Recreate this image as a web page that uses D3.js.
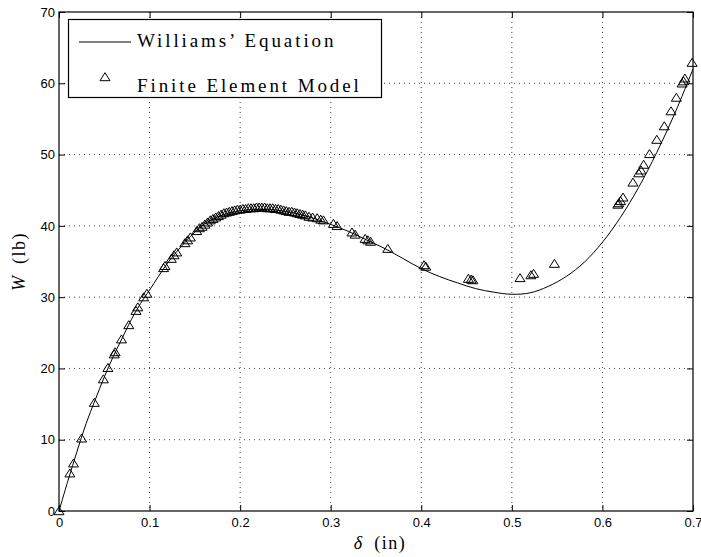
<!DOCTYPE html>
<html>
<head>
<meta charset="utf-8">
<script src="https://cdn.jsdelivr.net/npm/d3@7"></script>
<style>
  body { margin: 0; background: #fff; }
  .tick text { font-family: "Liberation Sans", Arial, sans-serif; font-size: 13px; fill: #000; }
  .lbl { font-family: "Liberation Serif", serif; fill: #000; }
</style>
</head>
<body>
<script>
// Williams' Equation curve (delta in, W lb)
const curveD = [0, 0.01, 0.02, 0.03, 0.04, 0.05, 0.06, 0.07, 0.08, 0.09, 0.10, 0.12, 0.14, 0.16, 0.18, 0.20,
  0.22, 0.24, 0.26, 0.28, 0.30, 0.32, 0.34, 0.36, 0.38, 0.40, 0.42, 0.44, 0.46, 0.48, 0.50, 0.52,
  0.54, 0.56, 0.58, 0.60, 0.62, 0.64, 0.66, 0.68, 0.70];
const curveW = [0, 4.3, 8.4, 12.3, 15.6, 18.8, 21.7, 24.3, 26.9, 29.1, 31.0, 34.8, 37.8, 40.2, 41.5, 42.1,
  42.3, 42.2, 41.8, 41.1, 40.2, 39.2, 38.0, 36.8, 35.4, 34.0, 32.9, 32.0, 31.2, 30.7, 30.4, 30.6,
  31.5, 32.9, 34.9, 37.7, 41.2, 45.4, 50.3, 55.8, 62.0];

// Finite Element Model points
const femD = [0, 0.012, 0.016, 0.025, 0.039, 0.049, 0.054, 0.061, 0.062, 0.069, 0.077, 0.085, 0.087,
  0.0935, 0.097, 0.1155, 0.117, 0.124, 0.127, 0.130, 0.139, 0.142, 0.145, 0.152, 0.155,
  0.158, 0.161, 0.164, 0.167, 0.170, 0.173, 0.176, 0.179, 0.182, 0.185, 0.188, 0.191, 0.194, 0.197,
  0.200, 0.203, 0.206, 0.209, 0.212, 0.215, 0.218, 0.221, 0.224, 0.227, 0.230, 0.233, 0.236, 0.239,
  0.242, 0.245, 0.248, 0.251, 0.254, 0.257, 0.260, 0.263, 0.266, 0.269, 0.272, 0.276, 0.280, 0.285,
  0.289, 0.292, 0.303, 0.307, 0.3235, 0.327, 0.338, 0.341, 0.344, 0.363, 0.403, 0.405, 0.452, 0.455,
  0.457, 0.509, 0.521, 0.524, 0.547, 0.617, 0.618, 0.620, 0.6227, 0.6337, 0.640, 0.6426, 0.6455,
  0.652, 0.660, 0.6683, 0.6757, 0.6816, 0.688, 0.6896, 0.691, 0.699];
const femW = [0, 5.3, 6.7, 10.2, 15.2, 18.5, 20.1, 22.0, 22.3, 24.1, 26.1, 28.1, 28.6,
  30.0, 30.5, 34.1, 34.4, 35.4, 35.9, 36.3, 37.6, 38.0, 38.4, 39.3, 39.7,
  39.9, 40.2, 40.5, 40.8, 41.0, 41.2, 41.4, 41.6, 41.8, 41.9, 42.0, 42.1, 42.2, 42.3,
  42.3, 42.4, 42.4, 42.5, 42.5, 42.5, 42.6, 42.6, 42.6, 42.6, 42.5, 42.5, 42.5, 42.4,
  42.4, 42.3, 42.2, 42.1, 42.0, 42.0, 41.9, 41.8, 41.7, 41.6, 41.5, 41.3, 41.2, 41.1,
  40.9, 40.8, 40.3, 40.0, 39.1, 38.8, 38.2, 38.0, 37.8, 36.8, 34.5, 34.3, 32.6, 32.5,
  32.4, 32.7, 33.1, 33.3, 34.7, 43.0, 43.2, 43.5, 44.0, 46.1, 47.4, 47.8, 48.6,
  50.1, 52.1, 54.0, 56.1, 58.0, 60.0, 60.3, 60.7, 62.9];

const xTicks = [0, 0.1, 0.2, 0.3, 0.4, 0.5, 0.6, 0.7];
const yTicks = [0, 10, 20, 30, 40, 50, 60, 70];
const legendNames = ["Williams\u2019 Equation", "Finite Element Model"];

const w = 701;
const h = 557;
const pLeft = 59, pRight = 693, pTop = 12, pBottom = 511;

const xScale = d3.scaleLinear().domain([0, 0.7]).range([pLeft, pRight]);
const yScale = d3.scaleLinear().domain([0, 70]).range([pBottom, pTop]);

const svg = d3.select("body")
  .append("svg")
  .attr("width", w)
  .attr("height", h);

// dotted grid
svg.append("g")
  .selectAll("line")
  .data(xTicks.slice(1, -1))
  .enter()
  .append("line")
  .attr("x1", d => xScale(d)).attr("x2", d => xScale(d))
  .attr("y1", pTop).attr("y2", pBottom)
  .attr("stroke", "#444").attr("stroke-dasharray", "1,4");

svg.append("g")
  .selectAll("line")
  .data(yTicks.slice(1, -1))
  .enter()
  .append("line")
  .attr("y1", d => yScale(d)).attr("y2", d => yScale(d))
  .attr("x1", pLeft).attr("x2", pRight)
  .attr("stroke", "#444").attr("stroke-dasharray", "1,4");

// axes, ticks pointing inward on all four sides
const fmt = d => d === 0 ? "0" : String(d);
svg.append("g")
  .attr("transform", "translate(0," + pBottom + ")")
  .call(d3.axisBottom(xScale).tickValues(xTicks).tickFormat(fmt).tickSize(-6).tickPadding(7));
svg.append("g")
  .attr("transform", "translate(0," + pTop + ")")
  .call(d3.axisTop(xScale).tickValues(xTicks).tickFormat("").tickSize(-6));
svg.append("g")
  .attr("transform", "translate(" + pLeft + ",0)")
  .call(d3.axisLeft(yScale).tickValues(yTicks).tickSize(-6).tickPadding(4));
svg.append("g")
  .attr("transform", "translate(" + pRight + ",0)")
  .call(d3.axisRight(yScale).tickValues(yTicks).tickFormat("").tickSize(-6));
svg.selectAll(".domain").remove();
svg.selectAll(".tick line").attr("stroke", "#000");

svg.append("rect")
  .attr("x", pLeft).attr("y", pTop)
  .attr("width", pRight - pLeft).attr("height", pBottom - pTop)
  .attr("fill", "none").attr("stroke", "#000").attr("stroke-width", 1.2);

// curve
const curvePts = curveD.map((d, i) => [d, curveW[i]]);
const line = d3.line()
  .x(d => xScale(d[0]))
  .y(d => yScale(d[1]))
  .curve(d3.curveCatmullRom);
svg.append("path")
  .attr("d", line(curvePts))
  .attr("fill", "none").attr("stroke", "#000").attr("stroke-width", 1);

// triangles
const tri = "M0,-4.3L5,3.7L-5,3.7Z";
const femPts = femD.map((d, i) => [d, femW[i]]);
svg.append("g")
  .selectAll("path")
  .data(femPts)
  .enter()
  .append("path")
  .attr("d", tri)
  .attr("transform", d => "translate(" + xScale(d[0]) + "," + yScale(d[1]) + ")")
  .attr("fill", "none").attr("stroke", "#000").attr("stroke-width", 1);

// legend
const lg = svg.append("g");
lg.append("rect")
  .attr("x", 68.5).attr("y", 19.5).attr("width", 313).attr("height", 78)
  .attr("fill", "#fff").attr("stroke", "#000").attr("stroke-width", 1.2);
lg.append("line")
  .attr("x1", 79).attr("x2", 131).attr("y1", 42).attr("y2", 42)
  .attr("stroke", "#000");
lg.append("path")
  .attr("d", tri)
  .attr("transform", "translate(105,77)")
  .attr("fill", "none").attr("stroke", "#000");
lg.selectAll("text")
  .data(legendNames)
  .enter()
  .append("text")
  .attr("class", "lbl")
  .attr("x", 137)
  .attr("y", (d, i) => i === 0 ? 47 : 91.5)
  .style("font-size", "19px")
  .style("letter-spacing", "2.9px")
  .text(d => d);

// axis labels
const xl = svg.append("text")
  .attr("class", "lbl")
  .attr("x", (pLeft + pRight) / 2 + 4)
  .attr("y", 549)
  .attr("text-anchor", "middle")
  .style("font-size", "18px")
  .style("letter-spacing", "1.5px");
xl.append("tspan").style("font-style", "italic").text("\u03b4");
xl.append("tspan").text("\u2002(in)");

const yl = svg.append("text")
  .attr("class", "lbl")
  .attr("transform", "translate(25," + (pTop + pBottom) / 2 + ") rotate(-90)")
  .attr("text-anchor", "middle")
  .style("font-size", "18px")
  .style("letter-spacing", "1.5px");
yl.append("tspan").style("font-style", "italic").text("W");
yl.append("tspan").text("\u2002(lb)");
</script>
</body>
</html>
